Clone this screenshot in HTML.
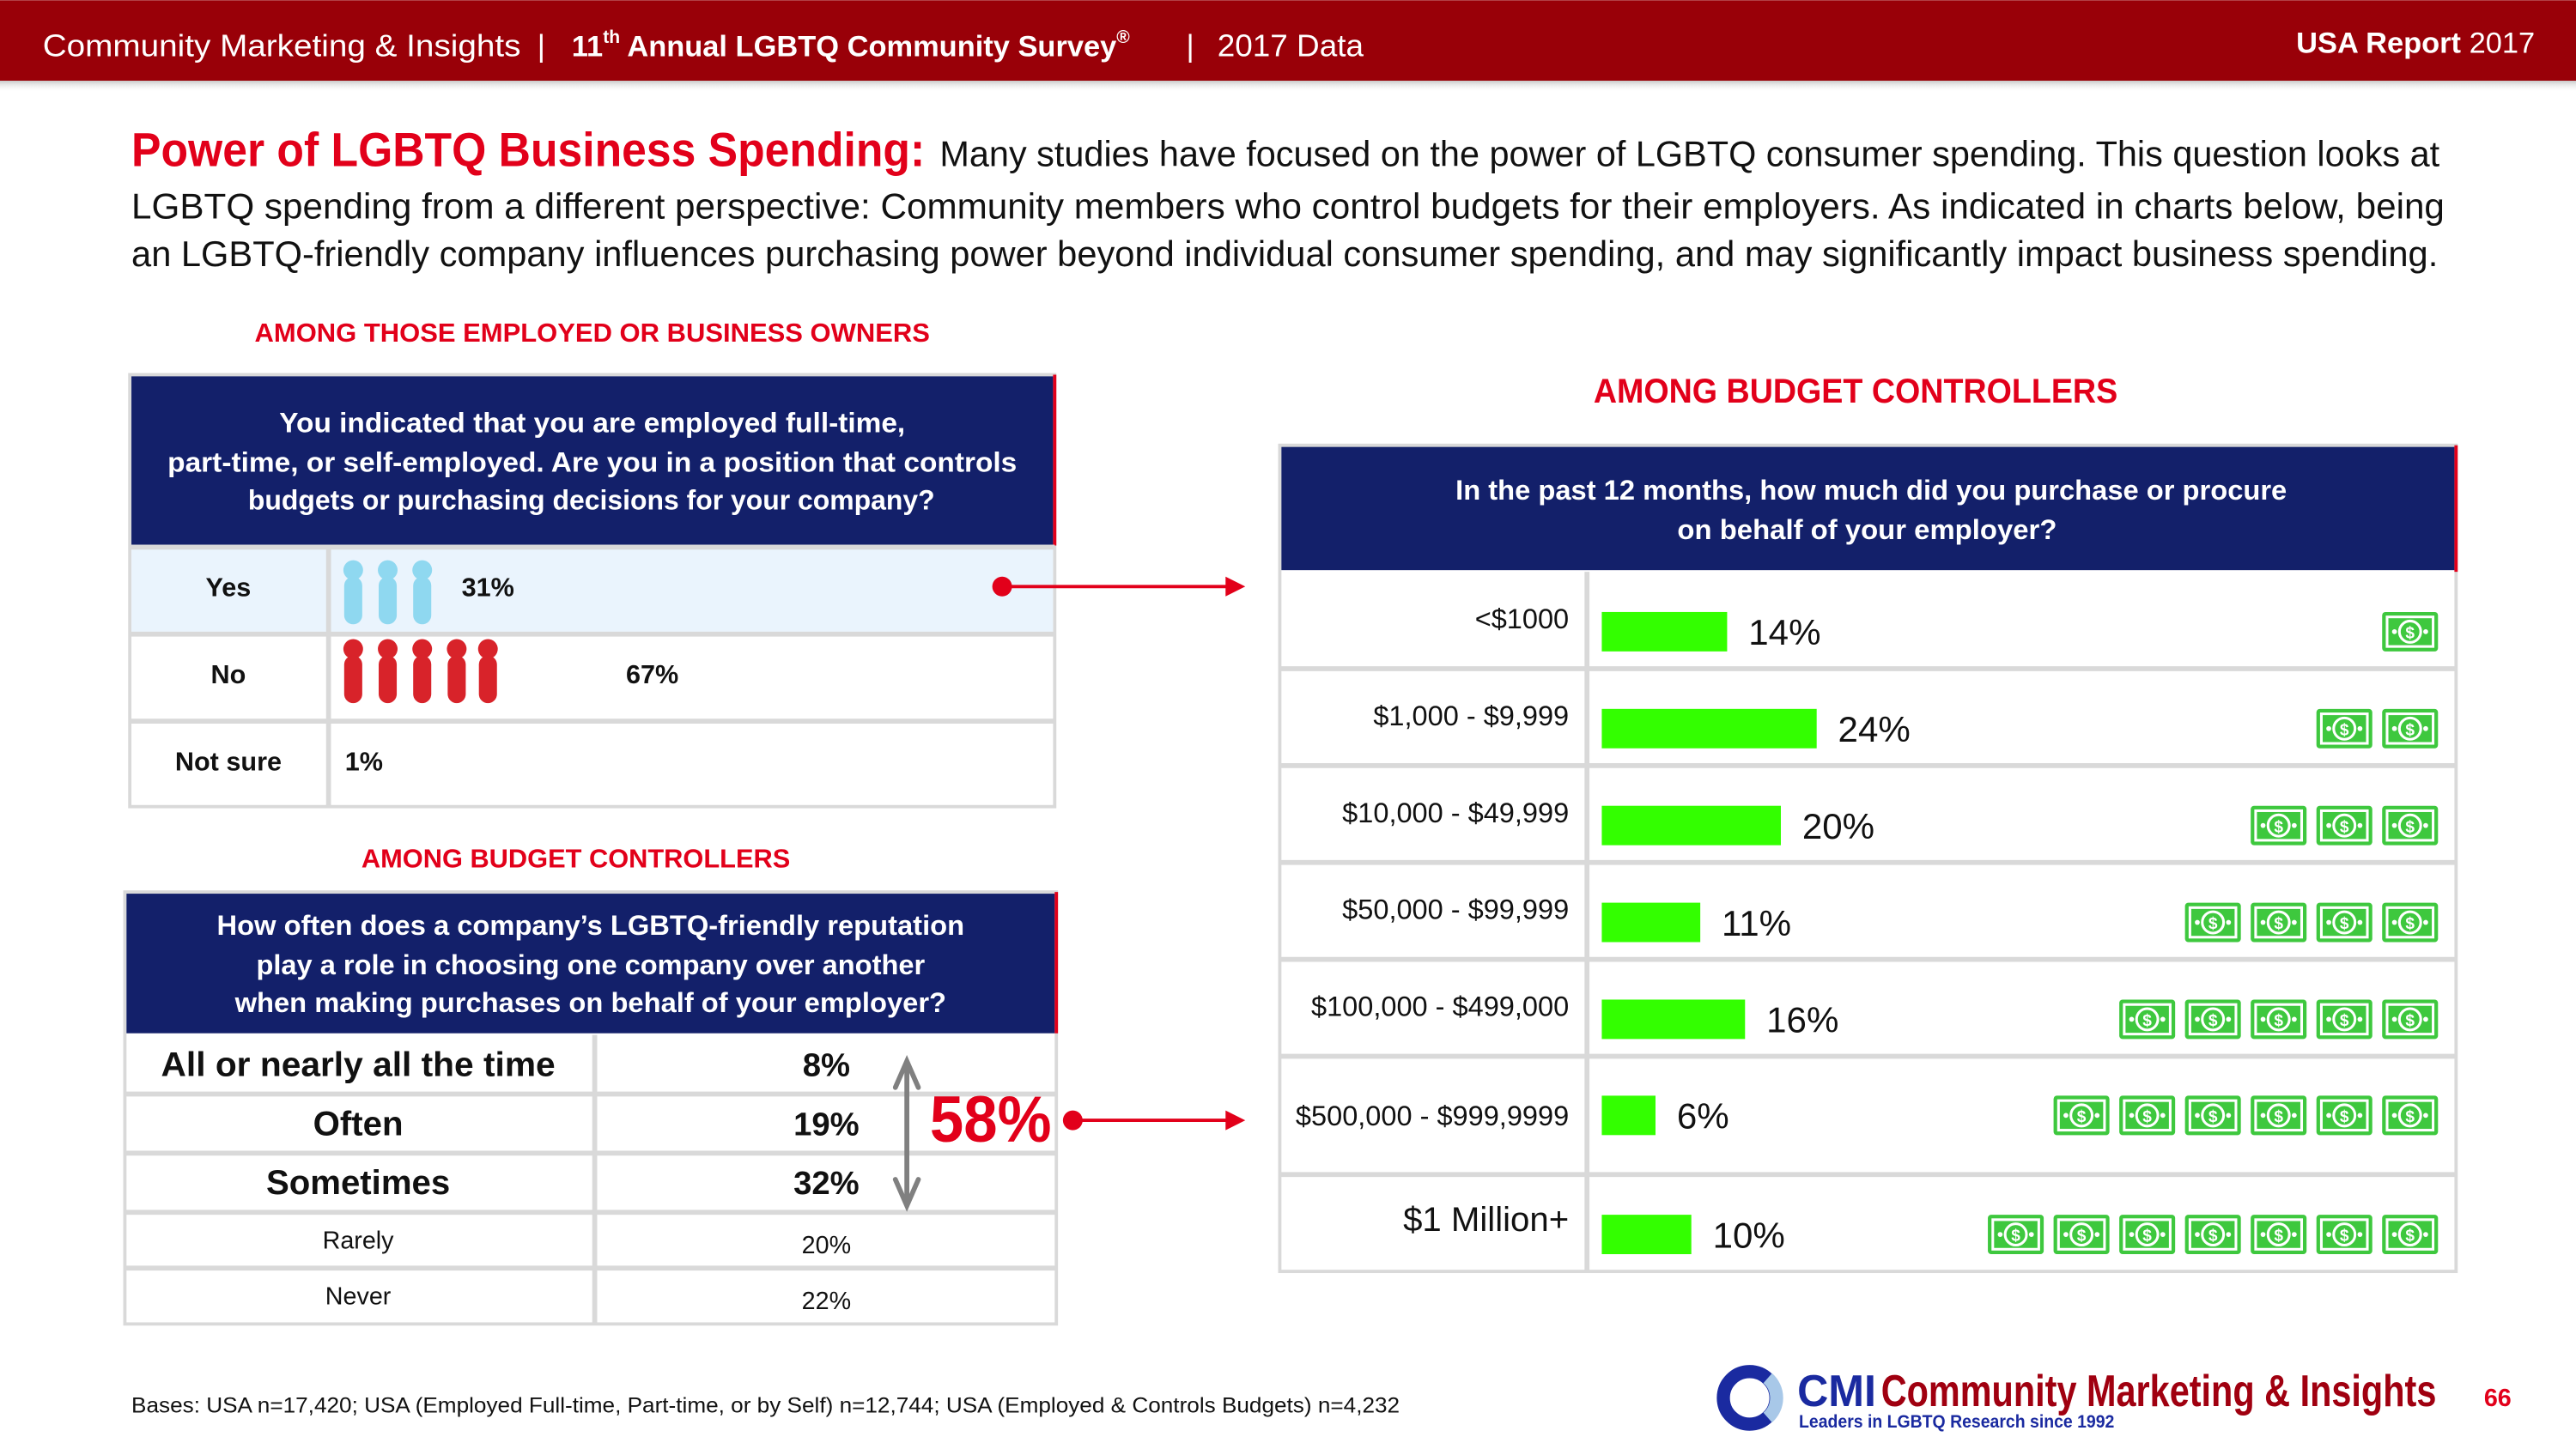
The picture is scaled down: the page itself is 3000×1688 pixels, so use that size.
<!DOCTYPE html>
<html><head><meta charset="utf-8">
<style>
html,body{margin:0;padding:0;background:#fff;}
svg{display:block;font-family:"Liberation Sans",sans-serif;}
</style></head>
<body>
<svg id="page" width="3000" height="1688" viewBox="0 0 1568 882" xmlns="http://www.w3.org/2000/svg">
<defs>
<linearGradient id="sh" x1="0" y1="0" x2="0" y2="1"><stop offset="0" stop-color="#999" stop-opacity=".7"/><stop offset="1" stop-color="#fff" stop-opacity="0"/></linearGradient>
</defs>
<!-- header -->
<g>
<rect x="0" y="48" width="1568" height="8" fill="url(#sh)"/>
<rect x="0" y="0" width="1568" height="49" fill="#990008"/>
<text x="26" y="34" font-size="19" fill="#fff" textLength="291" lengthAdjust="spacingAndGlyphs">Community Marketing &amp; Insights</text>
<text x="327" y="34" font-size="19" fill="#fff">|</text>
<text x="348" y="34" font-size="18" fill="#fff" font-weight="bold">11<tspan font-size="11" dy="-8">th</tspan><tspan dy="8"> Annual LGBTQ Community Survey</tspan><tspan font-size="11" dy="-8">®</tspan></text>
<text x="722" y="34" font-size="19" fill="#fff">|</text>
<text x="741" y="34" font-size="19" fill="#fff" textLength="89" lengthAdjust="spacingAndGlyphs">2017 Data</text>
<text x="1543" y="32" font-size="18" fill="#fff" text-anchor="end"><tspan font-weight="bold">USA Report</tspan> 2017</text>
</g>
<!-- title -->
<g>
<text x="80" y="101" font-size="29" font-weight="bold" fill="#e2001a" textLength="483" lengthAdjust="spacingAndGlyphs">Power of LGBTQ Business Spending:</text>
<text x="572" y="101" font-size="22" fill="#111" textLength="913" lengthAdjust="spacingAndGlyphs">Many studies have focused on the power of LGBTQ consumer spending. This question looks at</text>
<text x="80" y="133" font-size="22" fill="#111" textLength="1408" lengthAdjust="spacingAndGlyphs">LGBTQ spending from a different perspective: Community members who control budgets for their employers. As indicated in charts below, being</text>
<text x="80" y="162" font-size="22" fill="#111" textLength="1404" lengthAdjust="spacingAndGlyphs">an LGBTQ-friendly company influences purchasing power beyond individual consumer spending, and may significantly impact business spending.</text>
</g>

<!-- table 1 -->
<text x="155" y="208" font-size="16" font-weight="bold" fill="#e2001a" textLength="411" lengthAdjust="spacingAndGlyphs">AMONG THOSE EMPLOYED OR BUSINESS OWNERS</text>
<g>
<rect x="79" y="228" width="563" height="263" fill="#fff" stroke="#d9d9d9" stroke-width="2"/>
<rect x="80" y="229" width="561" height="103" fill="#13206a"/>
<line x1="642" y1="228" x2="642" y2="332" stroke="#e2001a" stroke-width="2"/>
<text x="170" y="263" font-size="17" font-weight="bold" fill="#fff" textLength="381" lengthAdjust="spacingAndGlyphs">You indicated that you are employed full-time,</text>
<text x="102" y="287" font-size="17" font-weight="bold" fill="#fff" textLength="517" lengthAdjust="spacingAndGlyphs">part-time, or self-employed.  Are you in a position that controls</text>
<text x="151" y="310" font-size="17" font-weight="bold" fill="#fff" textLength="418" lengthAdjust="spacingAndGlyphs">budgets or purchasing decisions for your company?</text>
<rect x="80" y="334" width="561" height="51" fill="#eaf4fd"/>
<g stroke="#d9d9d9" stroke-width="3"><line x1="79" y1="333" x2="642" y2="333"/><line x1="79" y1="386" x2="642" y2="386"/><line x1="79" y1="439" x2="642" y2="439"/><line x1="200" y1="333" x2="200" y2="491"/></g>
<g font-size="16" font-weight="bold" fill="#111" text-anchor="middle">
<text x="139" y="363">Yes</text><text x="139" y="416">No</text><text x="139" y="469">Not sure</text></g>
<g font-size="16" font-weight="bold" fill="#111">
<text x="281" y="363">31%</text><text x="381" y="416">67%</text><text x="210" y="469">1%</text></g>
<g id="people"></g>
</g>
<g>
<circle cx="610" cy="357" r="6" fill="#e2001a"/>
<line x1="612" y1="357" x2="748" y2="357" stroke="#e2001a" stroke-width="2"/>
<polygon points="746,351 758,357 746,363" fill="#e2001a"/>
</g>

<!-- table 2 -->
<text x="220" y="528" font-size="16" font-weight="bold" fill="#e2001a" textLength="261" lengthAdjust="spacingAndGlyphs">AMONG BUDGET CONTROLLERS</text>
<g>
<rect x="76" y="543" width="567" height="263" fill="#fff" stroke="#d9d9d9" stroke-width="2"/>
<rect x="77" y="544" width="565" height="85" fill="#13206a"/>
<line x1="643" y1="543" x2="643" y2="629" stroke="#e2001a" stroke-width="2"/>
<text x="132" y="569" font-size="17" font-weight="bold" fill="#fff" textLength="455" lengthAdjust="spacingAndGlyphs">How often does a company’s LGBTQ-friendly reputation</text>
<text x="156" y="593" font-size="17" font-weight="bold" fill="#fff" textLength="407" lengthAdjust="spacingAndGlyphs">play a role in choosing one company over another</text>
<text x="143" y="616" font-size="17" font-weight="bold" fill="#fff" textLength="433" lengthAdjust="spacingAndGlyphs">when making purchases on behalf of your employer?</text>
<g stroke="#d9d9d9" stroke-width="3"><line x1="76" y1="666" x2="643" y2="666"/><line x1="76" y1="702" x2="643" y2="702"/><line x1="76" y1="738" x2="643" y2="738"/><line x1="76" y1="772" x2="643" y2="772"/><line x1="362" y1="630" x2="362" y2="806"/></g>
<g fill="#111" text-anchor="middle">
<text x="218" y="655" font-size="21" font-weight="bold" textLength="240" lengthAdjust="spacingAndGlyphs">All or nearly all the time</text>
<text x="218" y="691" font-size="21" font-weight="bold">Often</text>
<text x="218" y="727" font-size="21" font-weight="bold">Sometimes</text>
<text x="218" y="760" font-size="15">Rarely</text>
<text x="218" y="794" font-size="15">Never</text>
<text x="503" y="655" font-size="20" font-weight="bold">8%</text>
<text x="503" y="691" font-size="20" font-weight="bold">19%</text>
<text x="503" y="727" font-size="20" font-weight="bold">32%</text>
<text x="503" y="763" font-size="15">20%</text>
<text x="503" y="797" font-size="15">22%</text>
</g>
</g>
<g stroke="#808080" stroke-width="3" fill="none" stroke-linecap="round">
<line x1="552" y1="647" x2="552" y2="733"/>
<polyline points="545,662 552,646 559,662"/>
<polyline points="545,718 552,734 559,718"/>
</g>
<text x="566" y="695" font-size="40" font-weight="bold" fill="#e2001a" textLength="74" lengthAdjust="spacingAndGlyphs">58%</text>
<g>
<circle cx="653" cy="682" r="6" fill="#e2001a"/>
<line x1="655" y1="682" x2="748" y2="682" stroke="#e2001a" stroke-width="2"/>
<polygon points="746,676 758,682 746,688" fill="#e2001a"/>
</g>

<!-- table 3 -->
<text x="970" y="245" font-size="21" font-weight="bold" fill="#e2001a" textLength="319" lengthAdjust="spacingAndGlyphs">AMONG BUDGET CONTROLLERS</text>
<g>
<rect x="779" y="271" width="716" height="503" fill="#fff" stroke="#d9d9d9" stroke-width="2"/>
<rect x="780" y="272" width="714" height="75" fill="#13206a"/>
<line x1="1495" y1="271" x2="1495" y2="348" stroke="#e2001a" stroke-width="2"/>
<text x="886" y="304" font-size="17" font-weight="bold" fill="#fff" textLength="506" lengthAdjust="spacingAndGlyphs">In the past 12 months, how much did you purchase or procure</text>
<text x="1021" y="328" font-size="17" font-weight="bold" fill="#fff" textLength="231" lengthAdjust="spacingAndGlyphs">on behalf of your employer?</text>
<g id="rows"></g>
</g>

<!-- footer -->
<text x="80" y="860" font-size="13" fill="#111" textLength="772" lengthAdjust="spacingAndGlyphs">Bases: USA n=17,420; USA (Employed Full-time, Part-time, or by Self) n=12,744; USA (Employed &amp; Controls Budgets) n=4,232</text>
<g>
<circle cx="1065" cy="851" r="16" fill="none" stroke="#1a2aa0" stroke-width="8"/>
<path d="M1076,839 A16,16 0 0 1 1076,863" fill="none" stroke="#a8c8e8" stroke-width="8"/>
<text x="1094" y="856" font-size="27" font-weight="bold" fill="#1a2aa0" textLength="48" lengthAdjust="spacingAndGlyphs">CMI</text>
<text x="1145" y="856" font-size="27" font-weight="bold" fill="#a00010" textLength="338" lengthAdjust="spacingAndGlyphs">Community Marketing &amp; Insights</text>
<text x="1095" y="869" font-size="11" font-weight="bold" fill="#1a2aa0" textLength="192" lengthAdjust="spacingAndGlyphs">Leaders in LGBTQ Research since 1992</text>
</g>
<text x="1512" y="856" font-size="15" font-weight="bold" fill="#e2001a">66</text>
</svg>
<script>
const NS="http://www.w3.org/2000/svg";
// pictogram data
const pictoCategories=["Yes","No"];
const pictoCounts=[3,5];
// spending chart data
const spendCategories=["<$1000","$1,000 - $9,999","$10,000 - $49,999","$50,000 - $99,999","$100,000 - $499,000","$500,000 - $999,9999","$1 Million+"];
const spendValues=[14,24,20,11,16,6,10];
const spendLabels=["14%","24%","20%","11%","16%","6%","10%"];
const cashCounts=[1,2,3,4,5,6,7];

function mk(tag,attrs,parent){const e=document.createElementNS(NS,tag);for(const k in attrs)e.setAttribute(k,attrs[k]);parent.appendChild(e);return e;}

// pictograms
const ppl=document.getElementById('people');
const pictoColors=["#8fd8f0","#d8232a"];
const pictoTop=[341,389];
pictoCounts.forEach((n,ri)=>{
  const xs=[215,236,257,278,297];
  for(let i=0;i<n;i++){
    const g=mk('g',{},ppl);
    
    
    const cx=xs[i],t=pictoTop[ri];
    mk('circle',{cx:cx,cy:t+6,r:6,fill:pictoColors[ri]},g);
    mk('rect',{x:cx-5.5,y:t+10,width:11,height:29,rx:5.5,fill:pictoColors[ri]},g);
  }
});

// spending rows
const rows=document.getElementById('rows');
const rowBounds=[348,407,466,525,584,643,715,774];
const xBar0=975, pxPerPct=5.45;
function xScale(v){return xBar0+v*pxPerPct;}
spendCategories.forEach((c,i)=>{
  const top=rowBounds[i],bot=rowBounds[i+1];
  const mid=(top+bot)/2;
  if(i>0){const l=mk('line',{x1:779,y1:top,x2:1495,y2:top,stroke:'#d9d9d9','stroke-width':3},rows);}
  const big=(i===6);
  const lab=mk('text',{x:955,y:mid-(big?-6:-5)-(big?0:0)-(i===5?-2:0)+ (big?0:0),'font-size':big?21:17,'text-anchor':'end',fill:'#111'},rows);
  lab.setAttribute('y', big? mid+5 : mid+5-(i===5?-1:0)-0);
  
  
  lab.textContent=c;
  const by=mid+(i===5?0:7)-12;
  const bar=mk('rect',{x:xBar0,y:by,width:xScale(spendValues[i])-xBar0,height:24,fill:'#33ff00'},rows);
  
  
  const vt=mk('text',{x:xScale(spendValues[i])+13,y:by+20,'font-size':22,fill:'#111'},rows);
  
  
  vt.textContent=spendLabels[i];
  for(let k=0;k<cashCounts[i];k++){
    const rx=1484-34-k*40;
    const g=mk('g',{},rows);
    
    
    mk('rect',{x:rx,y:by,width:34,height:24,rx:2,fill:'#3ec83e'},g);
    mk('rect',{x:rx+3,y:by+3,width:28,height:18,fill:'none',stroke:'#fff','stroke-width':1.6},g);
    mk('circle',{cx:rx+17,cy:by+12,r:6.5,fill:'none',stroke:'#fff','stroke-width':1.6},g);
    mk('circle',{cx:rx+7.5,cy:by+12,r:1.5,fill:'#fff'},g);
    mk('circle',{cx:rx+26.5,cy:by+12,r:1.5,fill:'#fff'},g);
    const d=mk('text',{x:rx+17,y:by+16,'font-size':10,'font-weight':'bold','text-anchor':'middle',fill:'#fff'},g);
    d.textContent='$';
  }
});
mk('line',{x1:966,y1:348,x2:966,y2:774,stroke:'#d9d9d9','stroke-width':3},rows);
</script>
</body></html>
